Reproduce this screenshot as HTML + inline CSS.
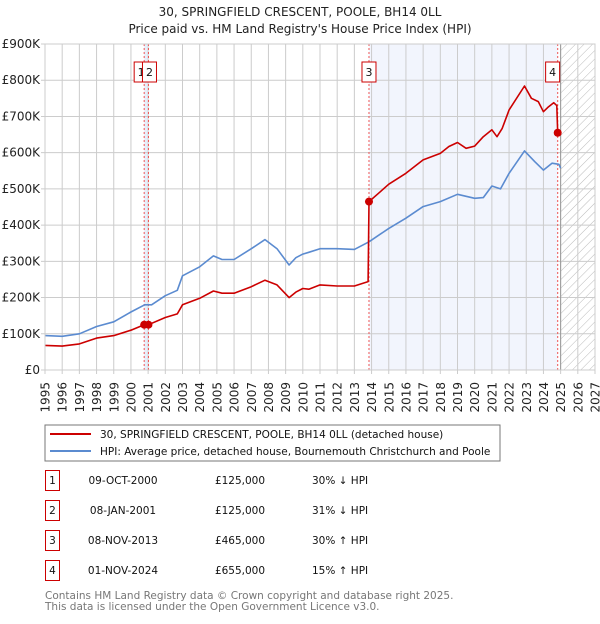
<!DOCTYPE html>
<html><head><meta charset="utf-8"><style>
body{margin:0;background:#fff;font-family:"DejaVu Sans","Liberation Sans",sans-serif;}
svg text{font-family:"DejaVu Sans","Liberation Sans",sans-serif;}
</style></head><body>
<svg id="c" width="600" height="620" xmlns="http://www.w3.org/2000/svg">
<defs>
<pattern id="hatch" width="6" height="6" patternUnits="userSpaceOnUse" patternTransform="rotate(45)">
<rect width="6" height="6" fill="#fff"/><line x1="0" y1="0" x2="0" y2="6" stroke="#bbb" stroke-width="1"/></pattern>
</defs>
<text x="300" y="16" text-anchor="middle" font-size="12" fill="#222">30, SPRINGFIELD CRESCENT, POOLE, BH14 0LL</text>
<text x="300" y="33" text-anchor="middle" font-size="12" fill="#222">Price paid vs. HM Land Registry's House Price Index (HPI)</text>
<g id="plot"></g>
<rect x="45" y="425" width="455" height="36" fill="#fff" stroke="#777"/>
<line x1="50" y1="434" x2="91" y2="434" stroke="#cc0000" stroke-width="2"/>
<text x="100" y="438" font-size="10.5" fill="#111">30, SPRINGFIELD CRESCENT, POOLE, BH14 0LL (detached house)</text>
<line x1="50" y1="451" x2="91" y2="451" stroke="#5b8bd0" stroke-width="2"/>
<text x="100" y="455" font-size="10.5" fill="#111">HPI: Average price, detached house, Bournemouth Christchurch and Poole</text>
<g id="table" font-size="10.5" fill="#111"></g>
<text x="45" y="599" font-size="10.5" fill="#777">Contains HM Land Registry data © Crown copyright and database right 2025.</text>
<text x="45" y="610" font-size="10.5" fill="#777">This data is licensed under the Open Government Licence v3.0.</text>
</svg>
<script>
const hpiYears=[1995,1996,1997,1998,1999,2000,2000.8,2001.2,2002,2002.7,2003,2004,2004.8,2005.3,2006,2007,2007.8,2008.5,2009.2,2009.6,2010,2010.35,2011,2012,2013,2013.85,2014.5,2015,2016,2017,2018,2019,2020,2020.5,2021,2021.5,2022,2022.9,2023.5,2024,2024.5,2024.9,2025];
const hpiValues=[95,93,100,120,133,160,180,180,205,220,260,285,315,305,305,335,360,335,290,310,320,325,335,335,333,354,375,391,419,451,465,485,474,476,508,500,543,605,575,552,571,568,557];
const ppYears=[1995,1996,1997,1998,1999,2000,2000.77,2001.02,2002,2002.7,2003,2004,2004.8,2005.3,2006,2007,2007.8,2008.5,2009.2,2009.6,2010,2010.35,2011,2012,2013,2013.8,2013.85,2014.5,2015,2016,2017,2018,2018.5,2019,2019.5,2020,2020.5,2021,2021.3,2021.6,2022,2022.9,2023.3,2023.7,2024,2024.3,2024.6,2024.78,2024.83,2025];
const ppValues=[68,66,72,88,95,110,125,125,145,155,180,198,218,212,212,230,248,235,200,215,225,223,235,232,232,244,465,492,513,543,580,598,617,628,612,618,644,663,644,667,718,784,750,741,713,727,738,730,655,650];
const saleLabels=["1","2","3","4"];
const saleYears=[2000.77,2001.02,2013.85,2024.83];
const saleValues=[125,125,465,655];
const saleDates=["09-OCT-2000","08-JAN-2001","08-NOV-2013","01-NOV-2024"];
const salePrices=["£125,000","£125,000","£465,000","£655,000"];
const saleDiffs=["30% ↓ HPI","31% ↓ HPI","30% ↑ HPI","15% ↑ HPI"];
const yTicks=[0,100,200,300,400,500,600,700,800,900];
const yTickLabels=["£0","£100K","£200K","£300K","£400K","£500K","£600K","£700K","£800K","£900K"];
const xTicks=[1995,1996,1997,1998,1999,2000,2001,2002,2003,2004,2005,2006,2007,2008,2009,2010,2011,2012,2013,2014,2015,2016,2017,2018,2019,2020,2021,2022,2023,2024,2025,2026,2027];

const X0=45,X1=595,Y0=370,Y1=44;
const xs=y=>X0+(y-1995)*(X1-X0)/32;
const ys=v=>Y0-v*(Y0-Y1)/900;
const NS="http://www.w3.org/2000/svg";
const g=document.getElementById('plot');
function mk(tag,attrs,parent){const e=document.createElementNS(NS,tag);for(const k in attrs)e.setAttribute(k,attrs[k]);(parent||g).appendChild(e);return e;}

let r=mk('rect',{x:xs(saleYears[0]),y:Y1,width:xs(saleYears[1])-xs(saleYears[0]),height:Y0-Y1,fill:'#e8eefa'});


r=mk('rect',{x:xs(saleYears[2]),y:Y1,width:xs(saleYears[3])-xs(saleYears[2]),height:Y0-Y1,fill:'#f2f5fd'});


r=mk('rect',{x:xs(2025),y:Y1,width:X1-xs(2025),height:Y0-Y1,fill:'url(#hatch)'});



xTicks.forEach(t=>{
  const l=mk('line',{x1:xs(t),x2:xs(t),y1:Y1,y2:Y0+4,stroke:'#cccccc','stroke-width':1});
  
  
  const tx=mk('text',{x:0,y:0,'font-size':12,fill:'#222','text-anchor':'end',transform:`translate(${xs(t)+4.5},${Y0+12}) rotate(-90)`});
  tx.textContent=t;
  
  
});
yTicks.forEach((t,i)=>{
  const l=mk('line',{x1:X0-4,x2:X1,y1:ys(t),y2:ys(t),stroke:'#cccccc','stroke-width':1});
  
  
  const tx=mk('text',{x:X0-5,y:ys(t)+4,'font-size':12,fill:'#222','text-anchor':'end'});
  tx.textContent=yTickLabels[i];
  
  
});
let b=mk('line',{x1:xs(2025),x2:xs(2025),y1:Y1,y2:Y0,stroke:'#999','stroke-width':1});



saleYears.forEach((y,i)=>{
  const l=mk('line',{x1:xs(y),x2:xs(y),y1:Y1,y2:Y0,stroke:'#ee5555','stroke-width':1,'stroke-dasharray':'2,2'});
  
  
});

function path(xa,va,color,name){
  const d=xa.map((x,i)=>(i?'L':'M')+xs(x).toFixed(1)+','+ys(va[i]).toFixed(1)).join(' ');
  const p=mk('path',{d:d,fill:'none',stroke:color,'stroke-width':1.6,'stroke-linejoin':'round'});
  
  
}
path(hpiYears,hpiValues,'#5b8bd0','hpi-line');
path(ppYears,ppValues,'#cc0000','price-paid-line');

saleYears.forEach((y,i)=>{
  const c=mk('circle',{cx:xs(y),cy:ys(saleValues[i]),r:4,fill:'#cc0000'});
  
  
  let bx=xs(y)-7; if(i==0) bx=xs(y)-10; if(i==1) bx=xs(y)-6; if(i==3) bx=Math.min(bx,xs(2025)-15);
  const rb=mk('rect',{x:bx,y:62,width:14,height:20,fill:'#fff',stroke:'#cc0000','stroke-width':1});
  
  
  const t=mk('text',{x:bx+7,y:76,'font-size':11,fill:'#111','text-anchor':'middle'});
  t.textContent=saleLabels[i];
  
  
});
let fr=mk('rect',{x:X0,y:Y1,width:X1-X0,height:Y0-Y1,fill:'none',stroke:'#cccccc'});



const tb=document.getElementById('table');
saleLabels.forEach((s,i)=>{
  const y=483+i*30;
  const rb=mk('rect',{x:45.5,y:y-12.5,width:14,height:20,fill:'#fff',stroke:'#cc0000'},tb);
  
  
  const cells=[[52.5,s,'middle'],[123,saleDates[i],'middle'],[240,salePrices[i],'middle'],[312,saleDiffs[i],'start']];
  cells.forEach((c,j)=>{
    const t=mk('text',{x:c[0],y:y+1,'text-anchor':c[2]},tb);
    t.textContent=c[1];
    
    
  });
});
</script>
</body></html>
